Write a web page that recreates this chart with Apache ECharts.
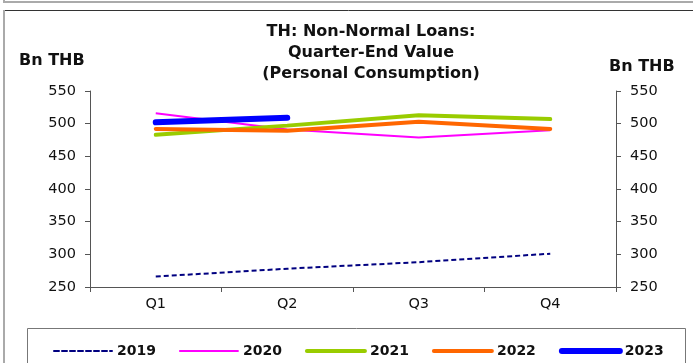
<!DOCTYPE html>
<html>
<head>
<meta charset="utf-8">
<script src="https://cdn.jsdelivr.net/npm/echarts@6/dist/echarts.min.js"></script>
<style>html,body{margin:0;padding:0;background:#fff;}#c{width:693px;height:363px;}</style>
</head>
<body>
<div id="c"></div>
<script>
const categories = ['Q1', 'Q2', 'Q3', 'Q4'];
const s2019 = [266, 278, 288, 301];
const s2020 = [516, 491, 479, 490];
const s2021 = [483, 497, 513, 507];
const s2022 = [492, 489, 503, 492];
const s2023 = [502, 509];
const yMin = 250, yMax = 550, yStep = 50;

const FONT = 'DejaVu Sans';
const chart = echarts.init(document.getElementById('c'), null, {renderer: 'canvas'});
const axisColor = '#555';
const yAxisCommon = {
  type: 'value', min: yMin, max: yMax, interval: yStep,
  axisLine: {show: true, lineStyle: {color: axisColor, width: 1}},
  axisTick: {show: true, length: 5, lineStyle: {color: axisColor}},
  splitLine: {show: false},
  axisLabel: {color: '#111', fontFamily: FONT, fontSize: 14.5, margin: 14}
};
const seriesStyles = {
  '2019': {color: '#000080', width: 2, type: [5, 3]},
  '2020': {color: '#FF00FF', width: 2, type: 'solid'},
  '2021': {color: '#99CC00', width: 4, type: 'solid'},
  '2022': {color: '#FF6600', width: 4, type: 'solid'},
  '2023': {color: '#0000FF', width: 6, type: 'solid'}
};
const names = ['2019', '2020', '2021', '2022', '2023'];
const values = [s2019, s2020, s2021, s2022, s2023];
chart.setOption({
  animation: false,
  backgroundColor: '#fff',
  textStyle: {fontFamily: FONT},
  title: {
    text: 'TH: Non-Normal Loans:\nQuarter-End Value\n(Personal Consumption)',
    left: 366, top: 16, textAlign: 'center',
    textStyle: {fontFamily: FONT, fontSize: 16, fontWeight: 'bold', color: '#111', lineHeight: 21}
  },
  grid: {left: 90, right: 77, top: 91, bottom: 76, containLabel: false},
  xAxis: {
    type: 'category', data: categories, boundaryGap: true,
    axisLine: {show: true, lineStyle: {color: axisColor}},
    axisTick: {show: true, length: 5, alignWithLabel: false, lineStyle: {color: axisColor}},
    axisLabel: {color: '#111', fontFamily: FONT, fontSize: 14.5, margin: 10}
  },
  yAxis: [
    Object.assign({}, yAxisCommon, {position: 'left'}),
    Object.assign({}, yAxisCommon, {position: 'right'})
  ],
  legend: {
    left: 48, top: 339, itemWidth: 58, itemHeight: 12, itemGap: 23,
    itemStyle: {opacity: 0},
    textStyle: {fontFamily: FONT, fontSize: 14, fontWeight: 'bold', color: '#111'},
    data: names.map(n => ({name: n, lineStyle: {color: seriesStyles[n].color, width: seriesStyles[n].width, type: seriesStyles[n].type, cap: 'round'}}))
  },
  series: names.map((n, i) => ({
    name: n, type: 'line', data: values[i], symbol: 'none',
    lineStyle: {color: seriesStyles[n].color, width: seriesStyles[n].width, type: seriesStyles[n].type, cap: seriesStyles[n].width > 2 ? 'round' : 'butt'},
    itemStyle: {color: seriesStyles[n].color}
  })),
  graphic: [
    {type: 'line', shape: {x1: 4, y1: 2, x2: 693, y2: 2}, style: {stroke: '#aaa', lineWidth: 2}},
    {type: 'line', shape: {x1: 4, y1: 0, x2: 4, y2: 3}, style: {stroke: '#aaa', lineWidth: 2}},
    {type: 'line', shape: {x1: 4, y1: 10.5, x2: 693, y2: 10.5}, style: {stroke: '#333', lineWidth: 1}},
    {type: 'line', shape: {x1: 4, y1: 10, x2: 4, y2: 363}, style: {stroke: '#aaa', lineWidth: 2}},
    {type: 'rect', shape: {x: 27.5, y: 328.5, width: 658, height: 60}, style: {fill: 'none', stroke: '#777', lineWidth: 1}},
    {type: 'text', left: 19, top: 53, style: {text: 'Bn THB', font: 'bold 16px "DejaVu Sans"', fill: '#111'}},
    {type: 'text', left: 609, top: 59, style: {text: 'Bn THB', font: 'bold 16px "DejaVu Sans"', fill: '#111'}}
  ]
});
</script>
</body>
</html>
